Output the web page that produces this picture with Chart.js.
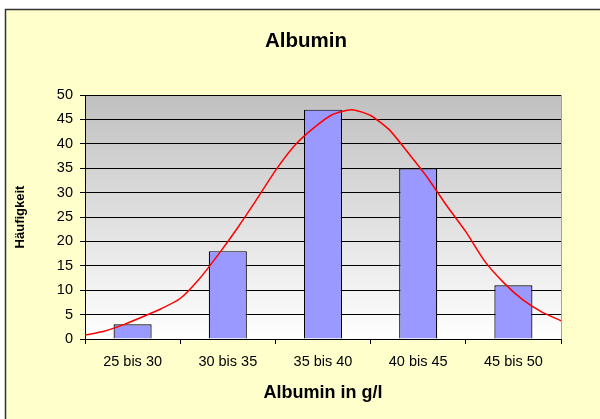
<!DOCTYPE html>
<html>
<head>
<meta charset="utf-8">
<script src="https://cdn.jsdelivr.net/npm/chart.js@4"></script>
<style>
  html, body { margin: 0; padding: 0; background: #fff; }
  #wrap { width: 600px; height: 419px; }
</style>
</head>
<body>
<div id="wrap"><canvas id="myChart" width="600" height="419"></canvas></div>
<script>
// Histogramm
const klassen = ['25 bis 30', '30 bis 35', '35 bis 40', '40 bis 45', '45 bis 50'];
const haeufigkeit = [3, 18, 47, 35, 11];

// Normalverteilungskurve, x in g/l
const kurveX = [25, 26, 27, 28, 29, 30, 31, 32, 33, 34, 35, 36, 37, 38, 39, 40, 41, 42, 43, 44, 45, 46, 47, 48, 49, 50];
const kurveY = [0.8, 1.6, 2.9, 4.5, 6.2, 8.3, 12.3, 17.3, 22.7, 28.5, 34.5, 39.6, 43.2, 46.0, 47.0, 45.8, 42.8, 38.0, 33.0, 27.3, 22.0, 15.9, 11.5, 8.0, 5.5, 3.75];

const yTicks = [0, 5, 10, 15, 20, 25, 30, 35, 40, 45, 50];
const titel = 'Albumin';

const hintergrund = {
    id: 'hintergrund',
    beforeDraw(chart) {
        const ctx = chart.ctx;
        const a = chart.chartArea;
        ctx.save();
        ctx.fillStyle = '#ffffff';
        ctx.fillRect(0, 0, chart.width, chart.height);
        ctx.fillStyle = '#FFFFCC';
        ctx.fillRect(5, 9, chart.width - 5, chart.height - 9);
        ctx.strokeStyle = '#333333';
        ctx.lineWidth = 1.5;
        ctx.beginPath();
        ctx.moveTo(5.5, chart.height);
        ctx.lineTo(5.5, 9.5);
        ctx.lineTo(chart.width, 9.5);
        ctx.stroke();
        const g = ctx.createLinearGradient(0, a.top, 0, a.bottom);
        g.addColorStop(0, '#C0C0C0');
        g.addColorStop(1, '#FFFFFF');
        ctx.fillStyle = g;
        ctx.fillRect(a.left, a.top, a.right - a.left, a.bottom - a.top);
        ctx.strokeStyle = '#A0A0A0';
        ctx.lineWidth = 1;
        ctx.beginPath();
        ctx.moveTo(a.right + 0.5, a.top);
        ctx.lineTo(a.right + 0.5, a.bottom);
        ctx.stroke();
        // Diagrammtitel
        ctx.fillStyle = '#000';
        ctx.font = 'bold 20.5px "Liberation Sans", Arial, sans-serif';
        ctx.textAlign = 'center';
        ctx.textBaseline = 'middle';
        ctx.fillText(titel, 306, 41);
        ctx.restore();
    }
};

const ctx = document.getElementById('myChart').getContext('2d');
new Chart(ctx, {
    type: 'bar',
    data: {
        labels: klassen,
        datasets: [{
            type: 'line',
            label: 'Normalverteilung',
            data: kurveX.map((x, i) => ({ x: x, y: kurveY[i] })),
            xAxisID: 'x2',
            borderColor: '#FF0000',
            borderWidth: 1.5,
            pointRadius: 0,
            tension: 0.2,
            fill: false
        }, {
            label: 'Häufigkeit',
            data: haeufigkeit,
            backgroundColor: '#9999FF',
            borderColor: '#000000',
            borderWidth: 1.2,
            grouped: false,
            barPercentage: 0.4,
            categoryPercentage: 1.0
        }]
    },
    options: {
        responsive: false,
        animation: false,
        layout: { padding: { left: 8, right: 39, top: 95, bottom: 0 } },
        plugins: {
            legend: { display: false },
            tooltip: { enabled: false },
            title: { display: false }
        },
        scales: {
            x: {
                type: 'category',
                offset: true,
                grid: { display: true, drawOnChartArea: false, drawTicks: true, tickLength: 5, color: '#000', offset: true },
                border: { display: true, color: '#000', width: 1 },
                ticks: { color: '#000', padding: 9, font: { family: 'Liberation Sans', size: 14.5 } },
                title: {
                    display: true,
                    text: 'Albumin in g/l',
                    color: '#000',
                    font: { family: 'Liberation Sans', size: 18, weight: 'bold' },
                    padding: { top: 0, bottom: 15 }
                },
                afterFit(s) { s.height = 80; }
            },
            x2: {
                type: 'linear',
                display: false,
                offset: false,
                min: 25,
                max: 50
            },
            y: {
                min: 0,
                max: 50,
                afterBuildTicks(s) { s.ticks = yTicks.map(v => ({ value: v })); },
                grid: { color: '#000', lineWidth: 1, tickLength: 5 },
                border: { display: true, color: '#000', width: 1 },
                ticks: { color: '#000', padding: 7, font: { family: 'Liberation Sans', size: 14.5 } },
                title: {
                    display: true,
                    text: 'Häufigkeit',
                    color: '#000',
                    font: { family: 'Liberation Sans', size: 13, weight: 'bold' },
                    padding: { top: 5, bottom: 0 }
                },
                afterFit(s) { s.width = 77; }
            }
        }
    },
    plugins: [hintergrund]
});
</script>
</body>
</html>
